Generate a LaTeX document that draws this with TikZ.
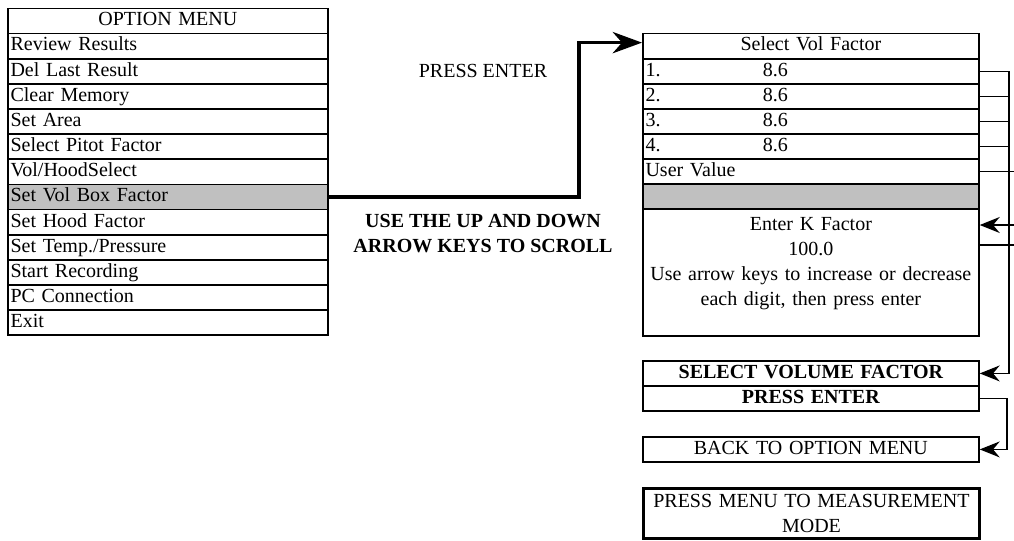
\documentclass[tikz,border=0pt]{standalone}
\usepackage{fontspec}
\setmainfont{Liberation Serif}
\usetikzlibrary{arrows.meta,calc}
\definecolor{menugray}{RGB}{192,192,192}
\begin{document}
\begin{tikzpicture}[x=0.75pt,y=-0.75pt,
  font=\fontsize{15pt}{18.75pt}\selectfont,
  box/.style={draw, line width=1.3pt, inner ysep=0pt, inner xsep=2pt, anchor=north west, text height=10.5pt, text depth=3.2pt},
  mrow/.style={box, minimum width=240pt, text width=236pt, minimum height=18.86pt, align=left},
  mtitle/.style={mrow, align=center},
  rrow/.style={box, minimum width=252pt, text width=248pt, minimum height=18.83pt, align=left},
  rtitle/.style={rrow, align=center},
  bigbox/.style={draw, line width=1.3pt, anchor=north west, inner sep=0pt, minimum width=252pt, text width=248pt, align=center},
  sel/.style={fill=menugray},
  conn/.style={line width=0.9pt},
  tip/.style={conn, -{Stealth[length=15pt,width=12pt,inset=5pt]}},
  bigarrow/.style={line width=2.6pt, -{Stealth[length=22pt,width=16pt,inset=7pt]}},
  lbl/.style={align=center, inner sep=0pt},
  ]
\useasboundingbox (0,0) rectangle (1014,540);

% ---- left option menu ----
\node[mtitle] (m0) at (7,7.5) {OPTION MENU};
\node[mrow] (m1) at (7,32.65) {Review Results};
\node[mrow] (m2) at (7,57.8) {Del Last Result};
\node[mrow] (m3) at (7,82.95) {Clear Memory};
\node[mrow] (m4) at (7,108.1) {Set Area};
\node[mrow] (m5) at (7,133.25) {Select Pitot Factor};
\node[mrow] (m6) at (7,158.4) {Vol/HoodSelect};
\node[mrow,sel] (m7) at (7,183.55) {Set Vol Box Factor};
\node[mrow] (m8) at (7,208.7) {Set Hood Factor};
\node[mrow] (m9) at (7,233.85) {Set Temp./Pressure};
\node[mrow] (m10) at (7,259) {Start Recording};
\node[mrow] (m11) at (7,284.15) {PC Connection};
\node[mrow] (m12) at (7,309.3) {Exit};

% ---- middle labels ----
\node[lbl] (pressenter) at (483,71) {PRESS ENTER};
\node[lbl, font=\fontsize{15pt}{18.75pt}\selectfont\bfseries] (scroll) at (483,234) {USE THE UP AND DOWN\\ARROW KEYS TO SCROLL};

% ---- right select vol factor ----
\node[rtitle] (r0) at (642,32.7) {Select Vol Factor};
\node[rrow] (r1) at (642,57.8) {\makebox[88pt][l]{1.}8.6};
\node[rrow] (r2) at (642,82.9) {\makebox[88pt][l]{2.}8.6};
\node[rrow] (r3) at (642,108) {\makebox[88pt][l]{3.}8.6};
\node[rrow] (r4) at (642,133.1) {\makebox[88pt][l]{4.}8.6};
\node[rrow] (r5) at (642,158.2) {User Value};
\node[rrow,sel] (r6) at (642,183.3) {};
\node[bigbox, minimum height=94.95pt] (kb) at (642,208.4)
  {Enter K Factor\\100.0\\Use arrow keys to increase or decrease\\each digit, then press enter\\[-7.5pt]\strut};

\node[rtitle, font=\fontsize{15pt}{18.75pt}\selectfont\bfseries] (sv) at (642,360) {SELECT VOLUME FACTOR};
\node[rtitle, font=\fontsize{15pt}{18.75pt}\selectfont\bfseries] (pe) at (642,385) {PRESS ENTER};
\node[rtitle] (bk) at (642,436) {BACK TO OPTION MENU};
\node[bigbox, line width=2.2pt, minimum height=37.5pt] (pm) at (642,487)
  {PRESS MENU TO MEASUREMENT\\MODE};

% ---- connectors ----
\coordinate (bx) at (579,0);
\coordinate (bt) at ($(r0.west)+(0,-3.5)$);
\draw[bigarrow] (m7.east) -| (bx |- bt) -- (bt);

\coordinate (vx) at (1009,0);
\coordinate (ux) at (1014,0);
\coordinate (px) at (1007,0);
\draw[tip] (r1.east) -| (vx |- sv.east) -- (sv.east);
\foreach \r in {r2,r3,r4}{
  \draw[conn] (\r.east) -- (\r.east -| vx);
}
\draw[conn] (r5.east) -- (r5.east -| ux);
\coordinate (k1) at (1014,225);
\draw[tip] (k1) -- (k1 -| kb.east);
\coordinate (k2) at (1014,245);
\draw[conn] (k2 -| kb.east) -- (k2);
\draw[tip] (pe.east) -| (px |- bk.east) -- (bk.east);
\end{tikzpicture}
\end{document}
